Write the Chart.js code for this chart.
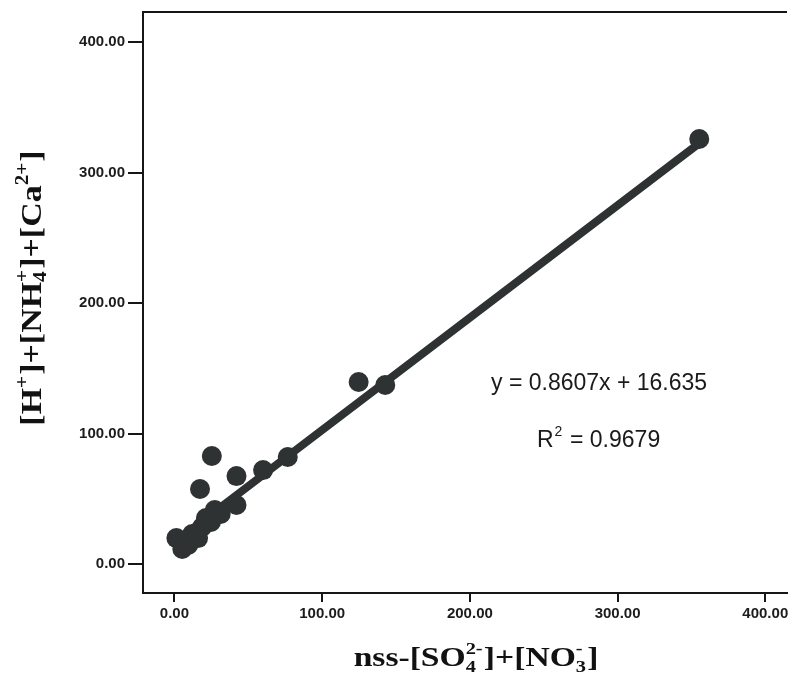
<!DOCTYPE html>
<html>
<head>
<meta charset="utf-8">
<script src="https://cdn.jsdelivr.net/npm/chart.js@4.4.1/dist/chart.umd.min.js"></script>
<style>
  html, body { margin:0; padding:0; background:#fff; overflow:hidden; }
  #wrap { width:797px; height:675px; }
</style>
</head>
<body>
<div id="wrap"><canvas id="chIons" width="797" height="675"></canvas></div>
<script>
// nss-[SO4 2-]+[NO3 -] against [H+]+[NH4+]+[Ca2+]
var anionSum = [1.3, 5.3, 9.3, 12.0, 16.0, 18.7, 21.3, 24.7, 27.3, 31.3, 17.3, 25.3, 42.0, 42.0, 60.0, 76.7, 124.7, 142.7, 355.3];
var cationSum = [19.9, 11.5, 14.6, 23.0, 19.9, 28.4, 35.2, 32.2, 41.4, 38.3, 57.5, 82.8, 67.4, 45.2, 72.0, 82.0, 139.5, 137.2, 325.7];
var xTicks = [0, 100, 200, 300, 400];
var yTicks = [0, 100, 200, 300, 400];
var fitSlope = 0.8607, fitIntercept = 16.635, fitR2 = 0.9679;

var INK = '#2e3233';
var AXIS = '#161616';

var points = anionSum.map(function(x, i){ return {x:x, y:cationSum[i]}; });
var xLo = Math.min.apply(null, anionSum), xHi = Math.max.apply(null, anionSum);
var fitLine = [{x:xLo, y:fitSlope*xLo+fitIntercept}, {x:xHi, y:fitSlope*xHi+fitIntercept}];

// draws text runs with sub/superscripts, centred on (cx, cy)
function drawRich(ctx, runs, cx, cy, size, angle, sx, family){
  var big = 'bold '+size+'px '+family, small = 'bold '+Math.round(size*0.62)+'px '+family;
  function runWidth(r){
    if (typeof r === 'string'){ ctx.font = big; return ctx.measureText(r).width; }
    ctx.font = small;
    var a = r.sub ? ctx.measureText(r.sub).width : 0, b = r.sup ? ctx.measureText(r.sup).width : 0;
    return Math.max(a, b) + 1;
  }
  ctx.save();
  ctx.translate(cx, cy); ctx.rotate(angle); ctx.scale(sx, 1);
  ctx.textBaseline = 'alphabetic'; ctx.textAlign = 'left';
  var w = 0;
  runs.forEach(function(r){ w += runWidth(r); });
  var x = -w/2, base = size*0.33;
  runs.forEach(function(r){
    var rw = runWidth(r);
    if (typeof r === 'string'){ ctx.fillText(r, x, base); }
    else {
      if (r.sub) ctx.fillText(r.sub, x, base + size*0.2);
      if (r.sup) ctx.fillText(r.sup, x, base - size*0.42);
    }
    x += rw;
  });
  ctx.restore();
}

var frameAndLabels = {
  id:'frameAndLabels',
  afterDraw:function(chart){
    var ctx = chart.ctx, a = chart.chartArea;
    ctx.save();
    ctx.strokeStyle = AXIS; ctx.lineWidth = 2;
    ctx.beginPath(); ctx.moveTo(a.left-1, a.top); ctx.lineTo(a.right, a.top); ctx.stroke();
    ctx.fillStyle = '#111';
    drawRich(ctx, ['[H', {sup:'+'}, ']+[NH', {sub:'4', sup:'+'}, ']+[Ca', {sup:'2+'}, ']'], 31, 288, 29, -Math.PI/2, 1.17, '"Liberation Serif"');
    drawRich(ctx, ['nss-[SO', {sub:'4', sup:'2-'}, ']+[NO', {sub:'3', sup:'-'}, ']'], 476, 657, 28, 0, 1.2, '"Liberation Serif"');

    // regression label
    ctx.fillStyle = '#1a1a1a';
    ctx.textBaseline = 'alphabetic'; ctx.textAlign = 'left';
    ctx.font = '23px "Liberation Sans"';
    ctx.fillText('y = ' + fitSlope + 'x + ' + fitIntercept, 491, 390);
    ctx.fillText('R', 537, 447);
    var rw = ctx.measureText('R').width;
    ctx.font = '14px "Liberation Sans"';
    ctx.fillText('2', 537 + rw + 1, 436);
    ctx.font = '23px "Liberation Sans"';
    ctx.fillText(' = ' + fitR2, 537 + rw + 10, 447);
    ctx.restore();
  }
};

function tickList(arr){ return function(scale){ scale.ticks = arr.map(function(v){ return {value:v}; }); }; }

new Chart(document.getElementById('chIons'), {
  type:'scatter',
  data:{ datasets:[
    { type:'line', data:fitLine, borderColor:INK, borderWidth:8, borderCapStyle:'round', pointRadius:0, fill:false, order:2 },
    { data:points, backgroundColor:INK, borderColor:INK, pointRadius:10, pointHoverRadius:10, borderWidth:0, order:1 }
  ]},
  options:{
    responsive:false, animation:false, devicePixelRatio:1,
    layout:{ padding:{ left:0, top:12, right:0, bottom:0 } },
    plugins:{ legend:{display:false}, tooltip:{enabled:false} },
    scales:{
      x:{ type:'linear', min:-21.3, max:414.7, afterBuildTicks:tickList(xTicks),
        afterFit:function(s){ s.height = 82; },
        grid:{ drawOnChartArea:false, drawTicks:true, tickLength:9, color:AXIS, lineWidth:2 },
        border:{ color:AXIS, width:2 },
        ticks:{ color:'#1c1c1c', padding:3, maxRotation:0, font:{ family:'"Liberation Sans"', size:15, weight:'bold' },
          callback:function(v){ return Number(v).toFixed(2); } } },
      y:{ type:'linear', min:-22.2, max:423, afterBuildTicks:tickList(yTicks),
        afterFit:function(s){ s.width = 143; },
        grid:{ drawOnChartArea:false, drawTicks:true, tickLength:15, color:AXIS, lineWidth:2 },
        border:{ color:AXIS, width:2 },
        ticks:{ color:'#1c1c1c', padding:3, font:{ family:'"Liberation Sans"', size:15, weight:'bold' },
          callback:function(v){ return Number(v).toFixed(2); } } }
    }
  },
  plugins:[frameAndLabels]
});
</script>
</body>
</html>
